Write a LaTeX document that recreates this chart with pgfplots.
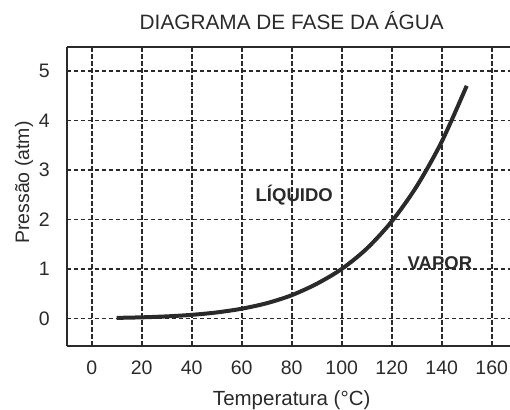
\documentclass[border=0pt]{standalone}
\usepackage{fontspec}
\setmainfont{Liberation Sans}
\usepackage{pgfplots}
\pgfplotsset{compat=1.18}
\definecolor{ink}{HTML}{2A2A2A}
\begin{document}
\begin{tikzpicture}
\begin{axis}[
  name=ax,
  at={(0,0)}, anchor=south west,
  scale only axis,
  width=450bp, height=299bp,
  xmin=-10, xmax=170,
  ymin=-0.55, ymax=5.49,
  axis x line*=box,
  axis y line*=left,
  axis line style={ink, line width=2bp},
  xtick={0,20,...,160},
  ytick={0,1,...,5},
  major tick length=0pt,
  grid=major,
  grid style={ink, line width=1.8bp, dash pattern=on 4.5bp off 2.5bp},
  /pgf/number format/assume math mode=true,
  tick label style={font=\fontsize{19.5bp}{22bp}\selectfont, text=ink},
  xticklabel style={anchor=base, inner sep=0pt, yshift=-28.3bp},
  yticklabel style={anchor=east, inner sep=0pt, xshift=-16.7bp},
  clip=false,
]
\addplot[ink, line width=4bp, smooth, tension=0.5] coordinates {
  (10,0.012) (20,0.023) (30,0.042) (40,0.073) (50,0.122) (60,0.197)
  (70,0.308) (80,0.47) (90,0.70) (100,1.0) (110,1.41) (120,1.96)
  (130,2.67) (140,3.57) (150,4.70)
};
\node[anchor=base, font=\bfseries\fontsize{18.5bp}{22bp}\selectfont, text=ink] at (axis cs:81,2.356) {LÍQUIDO};
\node[anchor=base, font=\bfseries\fontsize{18.5bp}{22bp}\selectfont, text=ink] at (axis cs:139.3,0.99) {VAPOR};
\end{axis}
\node[anchor=base, font=\fontsize{20.8bp}{24bp}\selectfont, text=ink] at ([yshift=16.7bp]ax.north) {DIAGRAMA DE FASE DA ÁGUA};
\node[anchor=base, font=\fontsize{20.5bp}{24bp}\selectfont, text=ink] at ([yshift=-59.3bp]ax.south) {Temperatura (°C)};
\node[anchor=base, rotate=90, font=\fontsize{19.5bp}{22bp}\selectfont, text=ink] at ([xshift=-37.7bp, yshift=13.7bp]ax.west) {Pressão (atm)};
\pgfresetboundingbox
\path[use as bounding box] ([xshift=-66.7bp,yshift=-64.3bp]ax.south west) rectangle ([xshift=443.3bp,yshift=46.7bp]ax.north west);
\end{tikzpicture}
\end{document}
